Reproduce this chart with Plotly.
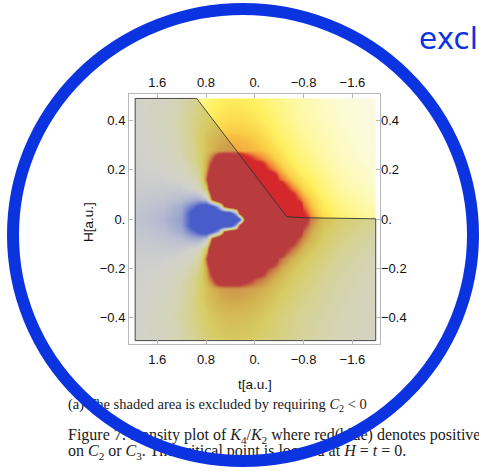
import plotly.graph_objects as go

# ---- K4/K2 density values on a (t, H) grid ----
t_vals = [1.96, 1.5, 1.2, 1.0, 0.9, 0.8, 0.7, 0.6, 0.5, 0.4, 0.3, 0.25, 0.2, 0.15,
          0.1, 0.0, -0.1, -0.2, -0.3, -0.4, -0.5, -0.6, -0.7, -0.8, -0.9, -1.1, -1.4, -1.99]
h_vals = [0.49, 0.4, 0.33, 0.28, 0.24, 0.2, 0.16, 0.12, 0.08, 0.05, 0.025, 0.0,
          -0.025, -0.05, -0.08, -0.12, -0.16, -0.2, -0.24, -0.28, -0.33, -0.4, -0.49]

k_ratio = [
    [0.02, 0.08, 0.20, 0.33, 0.40, 0.45, 0.50, 0.53, 0.55, 0.56, 0.56, 0.56, 0.55, 0.55, 0.54, 0.52, 0.50, 0.47, 0.44, 0.41, 0.38, 0.35, 0.32, 0.29, 0.26, 0.21, 0.15, 0.07],
    [0.02, 0.10, 0.25, 0.40, 0.48, 0.54, 0.58, 0.61, 0.63, 0.64, 0.64, 0.64, 0.63, 0.63, 0.62, 0.60, 0.57, 0.54, 0.50, 0.46, 0.42, 0.39, 0.35, 0.32, 0.29, 0.24, 0.17, 0.08],
    [0.00, 0.08, 0.22, 0.40, 0.52, 0.60, 0.66, 0.70, 0.72, 0.73, 0.73, 0.73, 0.72, 0.72, 0.71, 0.69, 0.66, 0.62, 0.58, 0.53, 0.49, 0.45, 0.41, 0.37, 0.34, 0.28, 0.20, 0.10],
    [-0.02, 0.06, 0.20, 0.38, 0.52, 0.62, 0.70, 0.74, 0.76, 0.77, 0.77, 0.77, 0.76, 0.76, 0.75, 0.74, 0.72, 0.69, 0.64, 0.60, 0.55, 0.50, 0.46, 0.42, 0.38, 0.31, 0.22, 0.11],
    [-0.03, 0.04, 0.17, 0.35, 0.52, 0.70, 0.92, 1.30, 1.40, 1.40, 1.40, 1.38, 1.25, 1.15, 1.05, 0.92, 0.85, 0.78, 0.72, 0.66, 0.60, 0.55, 0.50, 0.46, 0.42, 0.34, 0.24, 0.12],
    [-0.04, 0.00, 0.10, 0.25, 0.45, 0.75, 1.20, 1.60, 1.60, 1.60, 1.60, 1.60, 1.60, 1.60, 1.60, 1.50, 1.30, 0.95, 0.85, 0.76, 0.68, 0.62, 0.56, 0.51, 0.46, 0.38, 0.27, 0.14],
    [-0.05, -0.04, 0.02, 0.15, 0.35, 0.90, 1.60, 1.60, 1.60, 1.60, 1.60, 1.60, 1.60, 1.60, 1.60, 1.60, 1.60, 1.60, 1.25, 0.90, 0.80, 0.72, 0.65, 0.58, 0.53, 0.43, 0.30, 0.16],
    [-0.08, -0.10, -0.10, 0.00, 0.15, 0.55, 1.60, 1.60, 1.60, 1.60, 1.60, 1.60, 1.60, 1.60, 1.60, 1.60, 1.60, 1.60, 1.60, 1.60, 1.05, 0.88, 0.78, 0.68, 0.60, 0.48, 0.34, 0.19],
    [-0.10, -0.16, -0.24, -0.36, -0.35, -0.20, 1.05, 1.60, 1.60, 1.60, 1.60, 1.60, 1.60, 1.60, 1.60, 1.60, 1.60, 1.60, 1.60, 1.60, 1.60, 1.25, 0.95, 0.80, 0.70, 0.55, 0.40, 0.23],
    [-0.12, -0.21, -0.38, -0.85, -1.20, -1.30, -1.10, -0.40, 1.00, 1.50, 1.60, 1.60, 1.60, 1.60, 1.60, 1.60, 1.60, 1.60, 1.60, 1.60, 1.60, 1.60, 1.40, 0.88, 0.74, 0.58, 0.44, 0.27],
    [-0.14, -0.25, -0.44, -1.30, -1.60, -1.60, -1.60, -1.50, -1.45, -1.35, -0.30, 1.20, 1.60, 1.60, 1.60, 1.60, 1.60, 1.60, 1.60, 1.60, 1.60, 1.60, 1.60, 1.00, 0.80, 0.62, 0.47, 0.30],
    [-0.15, -0.28, -0.48, -1.20, -1.60, -1.60, -1.60, -1.60, -1.60, -1.60, -1.60, -1.30, 0.20, 1.40, 1.60, 1.60, 1.60, 1.60, 1.60, 1.60, 1.60, 1.60, 1.60, 1.20, 0.85, 0.65, 0.50, 0.32],
    [-0.14, -0.25, -0.44, -1.30, -1.60, -1.60, -1.60, -1.50, -1.45, -1.35, -0.30, 1.20, 1.60, 1.60, 1.60, 1.60, 1.60, 1.60, 1.60, 1.60, 1.60, 1.60, 1.60, 1.00, 0.80, 0.62, 0.47, 0.30],
    [-0.12, -0.21, -0.38, -0.85, -1.20, -1.30, -1.10, -0.40, 1.00, 1.50, 1.60, 1.60, 1.60, 1.60, 1.60, 1.60, 1.60, 1.60, 1.60, 1.60, 1.60, 1.60, 1.40, 0.88, 0.74, 0.58, 0.44, 0.27],
    [-0.10, -0.16, -0.24, -0.36, -0.35, -0.20, 1.05, 1.60, 1.60, 1.60, 1.60, 1.60, 1.60, 1.60, 1.60, 1.60, 1.60, 1.60, 1.60, 1.60, 1.60, 1.25, 0.95, 0.80, 0.70, 0.55, 0.40, 0.23],
    [-0.08, -0.10, -0.10, 0.00, 0.15, 0.55, 1.60, 1.60, 1.60, 1.60, 1.60, 1.60, 1.60, 1.60, 1.60, 1.60, 1.60, 1.60, 1.60, 1.60, 1.05, 0.88, 0.78, 0.68, 0.60, 0.48, 0.34, 0.19],
    [-0.05, -0.04, 0.02, 0.15, 0.35, 0.90, 1.60, 1.60, 1.60, 1.60, 1.60, 1.60, 1.60, 1.60, 1.60, 1.60, 1.60, 1.60, 1.25, 0.90, 0.80, 0.72, 0.65, 0.58, 0.53, 0.43, 0.30, 0.16],
    [-0.04, 0.00, 0.10, 0.25, 0.45, 0.75, 1.20, 1.60, 1.60, 1.60, 1.60, 1.60, 1.60, 1.60, 1.60, 1.50, 1.30, 0.95, 0.85, 0.76, 0.68, 0.62, 0.56, 0.51, 0.46, 0.38, 0.27, 0.14],
    [-0.03, 0.04, 0.17, 0.35, 0.52, 0.70, 0.92, 1.30, 1.40, 1.40, 1.40, 1.38, 1.25, 1.15, 1.05, 0.92, 0.85, 0.78, 0.72, 0.66, 0.60, 0.55, 0.50, 0.46, 0.42, 0.34, 0.24, 0.12],
    [-0.02, 0.06, 0.20, 0.38, 0.52, 0.62, 0.70, 0.74, 0.76, 0.77, 0.77, 0.77, 0.76, 0.76, 0.75, 0.74, 0.72, 0.69, 0.64, 0.60, 0.55, 0.50, 0.46, 0.42, 0.38, 0.31, 0.22, 0.11],
    [0.00, 0.08, 0.22, 0.40, 0.52, 0.60, 0.66, 0.70, 0.72, 0.73, 0.73, 0.73, 0.72, 0.72, 0.71, 0.69, 0.66, 0.62, 0.58, 0.53, 0.49, 0.45, 0.41, 0.37, 0.34, 0.28, 0.20, 0.10],
    [0.02, 0.10, 0.25, 0.40, 0.48, 0.54, 0.58, 0.61, 0.63, 0.64, 0.64, 0.64, 0.63, 0.63, 0.62, 0.60, 0.57, 0.54, 0.50, 0.46, 0.42, 0.39, 0.35, 0.32, 0.29, 0.24, 0.17, 0.08],
    [0.02, 0.08, 0.20, 0.33, 0.40, 0.45, 0.50, 0.53, 0.55, 0.56, 0.56, 0.56, 0.55, 0.55, 0.54, 0.52, 0.50, 0.47, 0.44, 0.41, 0.38, 0.35, 0.32, 0.29, 0.26, 0.21, 0.15, 0.07],
]

# excluded region (C2 >= 0), outline vertices in (t, H)
excl_t = [1.961, 0.952, -0.523, -0.85, -1.982, -1.982, 1.961, 1.961]
excl_h = [0.489, 0.489, 0.0093, 0.005, 0.001, -0.493, -0.493, 0.489]

# frame ticks
t_ticks = [1.6, 0.8, 0.0, -0.8, -1.6]
t_ticktext = ["1.6", "0.8", "0.", "\u22120.8", "\u22121.6"]
h_ticks = [0.4, 0.2, 0.0, -0.2, -0.4]
h_ticktext = ["0.4", "0.2", "0.", "\u22120.2", "\u22120.4"]

subcaption = "(a) The shaded area is excluded by requiring <i>C</i><sub>2</sub> &lt; 0"
caption_lines = [
    "Figure 7: Density plot of <i>K</i><sub>4</sub>/<i>K</i><sub>2</sub> where red(blue) denotes positive(negative)",
    "on <i>C</i><sub>2</sub> or <i>C</i><sub>3</sub>. The critical point is located at <i>H</i> = <i>t</i> = 0.",
]

W, HGT = 479, 471
BLUE = "#0b34e0"
SANS = "Liberation Sans, Arial, sans-serif"
SERIF = "Liberation Serif, Times New Roman, serif"

colorscale = [
    [0.0, "rgb(58,86,238)"],
    [0.125, "rgb(105,128,240)"],
    [0.275, "rgb(170,184,243)"],
    [0.4, "rgb(218,224,246)"],
    [0.5, "rgb(249,249,240)"],
    [0.575, "rgb(252,251,214)"],
    [0.675, "rgb(254,248,158)"],
    [0.775, "rgb(255,240,95)"],
    [0.85, "rgb(250,205,70)"],
    [0.91, "rgb(240,140,55)"],
    [0.96, "rgb(222,70,45)"],
    [1.0, "rgb(212,40,44)"],
]


def px_x(p):
    return p / W


def px_y(p):
    return 1 - p / HGT


fig = go.Figure()

fig.add_trace(go.Heatmap(
    x=t_vals, y=h_vals, z=k_ratio, zmin=-1, zmax=1, colorscale=colorscale,
    zsmooth="best", showscale=False, hoverinfo="skip", xaxis="x", yaxis="y",
))
# shaded excluded area on the frame axes, its outline on the overlaid pair
fig.add_trace(go.Scatter(
    x=excl_t, y=excl_h, mode="lines", fill="toself",
    fillcolor="rgba(112,112,112,0.28)", line=dict(width=0),
    hoverinfo="skip", showlegend=False, xaxis="x2", yaxis="y2",
))
fig.add_trace(go.Scatter(
    x=excl_t, y=excl_h, mode="lines",
    line=dict(color="rgba(45,45,45,0.95)", width=0.9),
    hoverinfo="skip", showlegend=False, xaxis="x3", yaxis="y3",
))

# caption and side text on a page-sized axis pair
fig.add_trace(go.Scatter(
    x=[68], y=[405], mode="text", text=[subcaption],
    textposition="middle right", textfont=dict(family=SERIF, size=14.5, color="#1a1a1a"),
    hoverinfo="skip", showlegend=False, xaxis="x4", yaxis="y4",
))
fig.add_trace(go.Scatter(
    x=[68, 68], y=[436.2, 452.2], mode="text", text=caption_lines,
    textposition="middle right", textfont=dict(family=SERIF, size=16, color="#1a1a1a"),
    hoverinfo="skip", showlegend=False, xaxis="x4", yaxis="y4",
))
fig.add_trace(go.Scatter(
    x=[419], y=[41.4], mode="text", text=["excl"], textposition="middle right",
    textfont=dict(family="DejaVu Sans, sans-serif", size=29.5, color=BLUE),
    hoverinfo="skip", showlegend=False, xaxis="x4", yaxis="y4",
))

tickfont = dict(family=SANS, size=13, color="#111111")
frame_col = "#b8b8b8"
frame_x = [2.062, -2.052]
frame_y = [-0.508, 0.509]

fig.update_layout(
    width=W, height=HGT, autosize=False,
    margin=dict(l=0, r=0, t=0, b=0),
    paper_bgcolor="white", plot_bgcolor="rgba(0,0,0,0)",
    showlegend=False,
    xaxis=dict(domain=[px_x(135.2), px_x(375.7)], range=[1.961, -1.982], visible=False,
               anchor="y"),
    yaxis=dict(domain=[px_y(340.7), px_y(98.3)], range=[-0.493, 0.489], visible=False,
               anchor="x"),
    xaxis2=dict(domain=[px_x(129), px_x(380)], range=frame_x, anchor="y2", side="bottom",
                tickvals=t_ticks, ticktext=t_ticktext, ticks="inside", ticklen=4,
                tickcolor=frame_col, showline=True, linecolor=frame_col, linewidth=1,
                mirror="ticks", showgrid=False, zeroline=False, tickfont=tickfont,
                ticklabelstandoff=3),
    yaxis2=dict(domain=[px_y(344.3), px_y(93.5)], range=frame_y, anchor="x2", side="left",
                tickvals=h_ticks, ticktext=h_ticktext, ticks="inside", ticklen=4,
                tickcolor=frame_col, showline=True, linecolor=frame_col, linewidth=1,
                mirror="ticks", showgrid=False, zeroline=False, tickfont=tickfont),
    xaxis3=dict(overlaying="x2", anchor="y2", side="top", range=frame_x,
                tickvals=t_ticks, ticktext=t_ticktext, ticks="", showline=False,
                showgrid=False, zeroline=False, tickfont=tickfont, ticklabelstandoff=3),
    yaxis3=dict(overlaying="y2", anchor="x2", side="right", range=frame_y,
                tickvals=h_ticks, ticktext=h_ticktext, ticks="", showline=False,
                showgrid=False, zeroline=False, tickfont=tickfont),
    xaxis4=dict(domain=[0, 1], range=[0, W], visible=False, anchor="y4"),
    yaxis4=dict(domain=[0, 1], range=[HGT, 0], visible=False, anchor="x4"),
)

fig.add_annotation(text="t[a.u.]", xref="paper", yref="paper", x=px_x(255), y=px_y(384.5),
                   xanchor="center", yanchor="middle", showarrow=False,
                   font=dict(family=SANS, size=13.5, color="#111111"))
fig.add_annotation(text="H[a.u.]", xref="paper", yref="paper", x=px_x(88), y=px_y(222),
                   xanchor="center", yanchor="middle", showarrow=False, textangle=-90,
                   font=dict(family=SANS, size=13.5, color="#111111"))

# blue ring drawn over everything on the page axes
fig.add_shape(type="circle", xref="x4", yref="y4", x0=13, x1=473, y0=9, y1=461,
              line=dict(color=BLUE, width=12), layer="above")

fig.write_html("out.html")
